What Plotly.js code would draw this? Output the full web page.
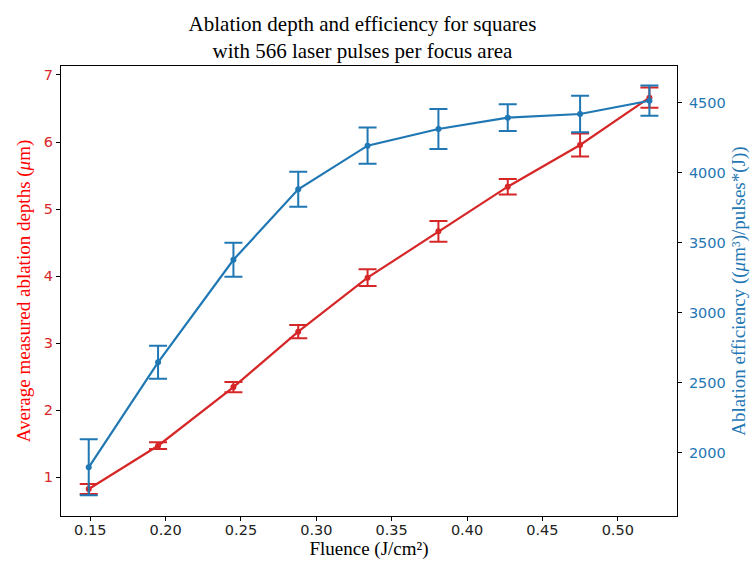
<!DOCTYPE html>
<html>
<head>
<meta charset="utf-8">
<script src="https://cdn.plot.ly/plotly-3.0.1.min.js"></script>
<style>html,body{margin:0;padding:0;background:#fff;}#chart{width:754px;height:570px;}</style>
</head>
<body>
<div id="chart"></div>
<script>
const fluence = [0.149, 0.195, 0.245, 0.288, 0.334, 0.381, 0.427, 0.475, 0.521];
const depth = [0.825, 1.471, 2.345, 3.172, 3.977, 4.668, 5.334, 5.956, 6.662];
const depthErr = [0.075, 0.05, 0.075, 0.10, 0.125, 0.155, 0.115, 0.17, 0.15];
const efficiency = [1896, 2646, 3378, 3881, 4193, 4312, 4393, 4419, 4514];
const efficiencyErr = [200, 118, 122, 125, 129, 143, 95, 131, 108];
const xTicks = [0.15, 0.20, 0.25, 0.30, 0.35, 0.40, 0.45, 0.50];
const xTickLabels = ['0.15', '0.20', '0.25', '0.30', '0.35', '0.40', '0.45', '0.50'];

const RED = '#d62728';
const BLUE = '#1f77b4';
const tickFont = {family: 'DejaVu Sans', size: 14.5};

const traces = [
  {
    x: fluence, y: depth, type: 'scatter', mode: 'lines+markers',
    line: {color: RED, width: 2.2}, marker: {color: RED, size: 6},
    error_y: {type: 'data', array: depthErr, visible: true, color: RED, thickness: 2, width: 9},
    yaxis: 'y', showlegend: false
  },
  {
    x: fluence, y: efficiency, type: 'scatter', mode: 'lines+markers',
    line: {color: BLUE, width: 2.2}, marker: {color: BLUE, size: 6},
    error_y: {type: 'data', array: efficiencyErr, visible: true, color: BLUE, thickness: 2, width: 9},
    yaxis: 'y2', showlegend: false
  }
];

const layout = {
  width: 754, height: 570,
  margin: {l: 61, r: 77, t: 66, b: 54},
  paper_bgcolor: '#fff', plot_bgcolor: '#fff',
  showlegend: false,
  title: {
    text: 'Ablation depth and efficiency for squares<br>with 566 laser pulses per focus area',
    font: {family: 'Liberation Serif', size: 21, color: '#000'},
    x: 369 / 754, xanchor: 'center', xref: 'paper',
    y: 1 - 31 / 570, yanchor: 'top', yref: 'container'
  },
  xaxis: {
    range: [0.1306, 0.5393],
    tickvals: xTicks, ticktext: xTickLabels,
    ticks: 'outside', ticklen: 4, tickwidth: 1, tickcolor: '#000',
    tickfont: Object.assign({color: '#222'}, tickFont),
    ticklabelstandoff: -3,
    showline: true, linecolor: '#000', linewidth: 1, mirror: true,
    showgrid: false, zeroline: false,
    title: {text: 'Fluence (J/cm²)', font: {family: 'Liberation Serif', size: 19, color: '#000'}, standoff: 4}
  },
  yaxis: {
    range: [0.423, 7.134],
    tickvals: [1, 2, 3, 4, 5, 6, 7],
    ticks: 'outside', ticklen: 4, tickwidth: 1, tickcolor: '#000',
    tickfont: Object.assign({color: RED}, tickFont),
    showline: true, linecolor: '#000', linewidth: 1, mirror: true,
    showgrid: false, zeroline: false,
    title: {text: 'Average measured ablation depths (<i>μ</i>m)', font: {family: 'Liberation Serif', size: 19, color: '#ff0000'}, standoff: 8}
  },
  yaxis2: {
    range: [1548, 4762],
    overlaying: 'y', side: 'right',
    tickvals: [2000, 2500, 3000, 3500, 4000, 4500],
    ticks: 'outside', ticklen: 4, tickwidth: 1, tickcolor: '#000',
    tickfont: Object.assign({color: BLUE}, tickFont),
    ticklabelstandoff: 4,
    showline: true, linecolor: '#000', linewidth: 1,
    showgrid: false, zeroline: false,
    title: {text: 'Ablation efficiency ((<i>μ</i>m³)/pulses*(J))', font: {family: 'Liberation Serif', size: 19, color: BLUE}, standoff: 6}
  }
};

Plotly.newPlot('chart', traces, layout, {displayModeBar: false, responsive: false});
</script>
</body>
</html>
